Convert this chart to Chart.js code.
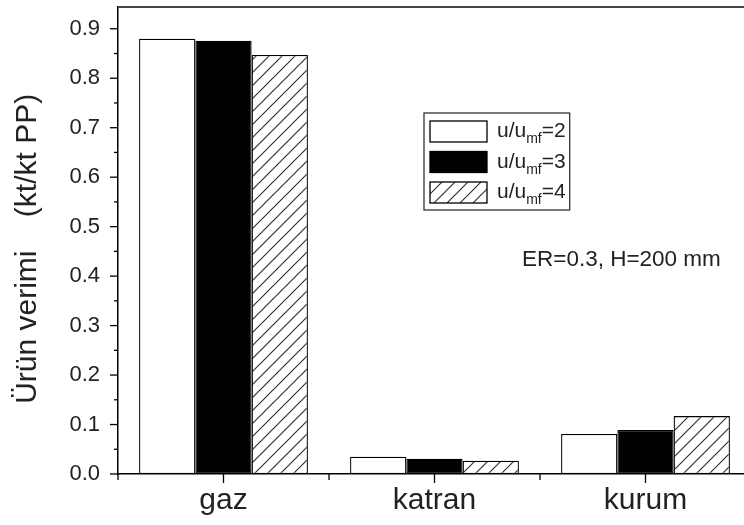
<!DOCTYPE html>
<html>
<head>
<meta charset="utf-8">
<script src="https://cdn.jsdelivr.net/npm/chart.js@4.4.0/dist/chart.umd.min.js"></script>
<style>
  html, body { margin: 0; padding: 0; background: #fff; overflow: hidden; }
</style>
</head>
<body>
<canvas id="barChart" width="760" height="525"></canvas>
<script>
// data
const categories = ['gaz', 'katran', 'kurum'];
const seriesRatios = ['2', '3', '4']; // u/u_mf
const ratio2 = [0.880, 0.035, 0.081];
const ratio3 = [0.876, 0.031, 0.089];
const ratio4 = [0.847, 0.027, 0.117];
const yTickLabels = ['0.0', '0.1', '0.2', '0.3', '0.4', '0.5', '0.6', '0.7', '0.8', '0.9'];
const yMinorTicks = [0.05, 0.15, 0.25, 0.35, 0.45, 0.55, 0.65, 0.75, 0.85];

const FONT = '"Liberation Sans", Arial, sans-serif';

// diagonal hatch for the third series
function hatchPattern() {
  const s = 13;
  const c = document.createElement('canvas');
  c.width = s; c.height = s;
  const g = c.getContext('2d');
  g.fillStyle = '#fff';
  g.fillRect(0, 0, s, s);
  g.strokeStyle = '#333';
  g.lineWidth = 1.2;
  g.beginPath();
  g.moveTo(0, s); g.lineTo(s, 0);
  g.moveTo(-s / 2, s / 2); g.lineTo(s / 2, -s / 2);
  g.moveTo(s / 2, s * 1.5); g.lineTo(s * 1.5, s / 2);
  g.stroke();
  return g.createPattern(c, 'repeat');
}

function line(ctx, x1, y1, x2, y2) {
  ctx.beginPath();
  ctx.moveTo(x1, y1);
  ctx.lineTo(x2, y2);
  ctx.stroke();
}

// ticks, top frame and the annotation
const frame = {
  id: 'frame',
  afterDraw(chart) {
    const { ctx, chartArea: a, scales: { x, y } } = chart;
    ctx.save();
    ctx.strokeStyle = '#000';
    ctx.lineWidth = 1.3;
    yTickLabels.forEach(t => {
      const py = y.getPixelForValue(parseFloat(t));
      line(ctx, a.left - 8, py, a.left, py);
    });
    yMinorTicks.forEach(v => {
      const py = y.getPixelForValue(v);
      line(ctx, a.left - 4, py, a.left, py);
    });
    categories.forEach((c, i) => {
      const px = x.getPixelForValue(i);
      line(ctx, px, a.bottom, px, a.bottom + 9);
    });
    for (let i = 0; i <= categories.length; i++) {
      const px = x.getPixelForValue(i - 0.5);
      line(ctx, px, a.bottom, px, a.bottom + 6);
    }
    ctx.strokeStyle = '#444';
    ctx.lineWidth = 2;
    line(ctx, a.left, a.top, a.right, a.top);
    line(ctx, a.right, a.top, a.right, a.bottom);

    ctx.fillStyle = '#222';
    ctx.font = '22.5px ' + FONT;
    ctx.textBaseline = 'alphabetic';
    ctx.fillText('ER=0.3, H=200 mm', a.left + 404, 266);
    ctx.restore();
  }
};

// boxed legend with subscripts
const legendBox = {
  id: 'legendBox',
  afterDraw(chart) {
    const ctx = chart.ctx;
    const bx = 424, by = 113, rowH = 30.5;
    ctx.save();
    let maxW = 0;
    chart.data.datasets.forEach((ds, i) => {
      const cy = by + 18 + i * rowH;
      ctx.fillStyle = ds.backgroundColor;
      ctx.fillRect(430, cy - 10, 57, 21);
      ctx.strokeStyle = '#000';
      ctx.lineWidth = 1.3;
      ctx.strokeRect(430, cy - 10, 57, 21);
      ctx.fillStyle = '#222';
      ctx.textBaseline = 'alphabetic';
      let tx = 497;
      ctx.font = '21px ' + FONT;
      ctx.fillText('u/u', tx, cy + 6);
      tx += ctx.measureText('u/u').width;
      ctx.font = '14px ' + FONT;
      ctx.fillText('mf', tx, cy + 12);
      tx += ctx.measureText('mf').width;
      ctx.font = '21px ' + FONT;
      ctx.fillText('=' + seriesRatios[i], tx, cy + 6);
      tx += ctx.measureText('=' + seriesRatios[i]).width;
      maxW = Math.max(maxW, tx);
    });
    ctx.strokeStyle = '#333';
    ctx.lineWidth = 1.3;
    ctx.strokeRect(bx, by, maxW + 4 - bx, 97);
    ctx.restore();
  }
};

const barCtx = document.getElementById('barChart').getContext('2d');
new Chart(barCtx, {
  type: 'bar',
  data: {
    labels: categories,
    datasets: [
      { label: 'u/umf=2', data: ratio2, backgroundColor: '#ffffff' },
      { label: 'u/umf=3', data: ratio3, backgroundColor: '#000000' },
      { label: 'u/umf=4', data: ratio4, backgroundColor: hatchPattern() },
    ],
  },
  options: {
    responsive: false,
    animation: false,
    devicePixelRatio: 1,
    layout: { padding: { top: 7, right: 9, left: 0, bottom: 0 } },
    datasets: {
      bar: {
        categoryPercentage: 0.8,
        barPercentage: 1.0,
        borderColor: '#000',
        borderWidth: 1.3,
        borderSkipped: false,
      },
    },
    plugins: {
      legend: { display: false },
      tooltip: { enabled: false },
    },
    scales: {
      x: {
        grid: { display: false, drawTicks: true, tickLength: 9 },
        border: { display: true, color: '#000', width: 1.5 },
        ticks: { color: '#222', font: { size: 30, family: FONT }, padding: 0 },
        afterFit: s => {
          s.height = 51;
          s.paddingLeft = 0;
          s.paddingRight = 0;
        },
      },
      y: {
        min: 0,
        max: 0.944,
        grid: { display: false, drawTicks: true, tickLength: 8 },
        border: { display: true, color: '#000', width: 1.5 },
        ticks: {
          stepSize: 0.1,
          includeBounds: false,
          color: '#222',
          padding: 10,
          font: { size: 22, family: FONT },
          callback: (v) => yTickLabels[Math.round(v * 10)],
        },
        title: {
          display: true,
          text: 'Ürün verimi    (kt/kt PP)  ',
          color: '#222',
          font: { size: 30, family: FONT },
          padding: { top: 10, bottom: 0 },
        },
        afterFit: s => {
          s.width = 118;
          s.paddingTop = 0;
          s.paddingBottom = 0;
        },
      },
    },
  },
  plugins: [frame, legendBox],
});
</script>
</body>
</html>
